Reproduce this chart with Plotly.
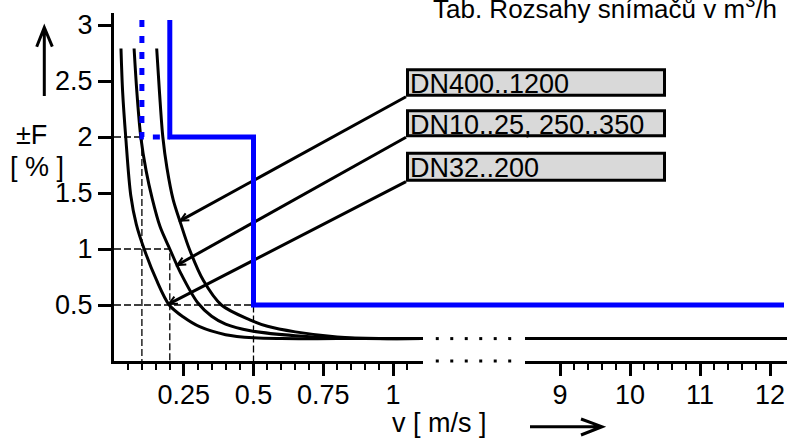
import math
import numpy as np
import plotly.graph_objects as go

# ---------------- data ----------------
# error curves  (v in m/s, F in %)
v_dn32 = [0.025, 0.031, 0.042, 0.060, 0.080, 0.108, 0.151, 0.198, 0.250, 0.307, 0.400, 0.500, 0.600, 0.800, 1.110]
f_dn32 = [2.79, 2.40, 2.00, 1.48, 1.22, 1.00, 0.73, 0.50, 0.39, 0.306, 0.235, 0.207, 0.200, 0.200, 0.200]

v_dn10 = [0.072, 0.082, 0.096, 0.115, 0.137, 0.165, 0.200, 0.240, 0.300, 0.350, 0.400, 0.489, 0.650, 0.800, 0.900, 1.110]
f_dn10 = [2.79, 2.40, 2.00, 1.70, 1.45, 1.20, 1.00, 0.78, 0.52, 0.40, 0.33, 0.27, 0.225, 0.205, 0.200, 0.200]

v_dn400 = [0.153, 0.163, 0.175, 0.190, 0.212, 0.240, 0.270, 0.320, 0.385, 0.489, 0.550, 0.650, 0.800, 0.950, 1.110]
f_dn400 = [2.79, 2.40, 2.00, 1.72, 1.44, 1.22, 1.00, 0.72, 0.50, 0.366, 0.31, 0.26, 0.215, 0.200, 0.200]

# right part of the broken axis (all curves merged)
v_right = [8.5, 12.25]
f_right = [0.2, 0.2]

# blue limit lines
v_lim = [0.2, 0.2, 0.5, 0.5, 1.11]
f_lim = [3.045, 2.0, 2.0, 0.5, 0.5]
v_lim_right = [8.5, 12.2]
f_lim_right = [0.5, 0.5]
v_lim_dot = [0.1, 0.1, 0.2]
f_lim_dot = [3.045, 2.0, 2.0]

# dashed guide points
guide_v = [0.1, 0.2, 0.5]
guide_f = [2.0, 1.0, 0.5]

# labels and the curve points they point to
labels = ["DN400..1200", "DN10..25, 250..350", "DN32..200"]
tip_v = [0.238, 0.227, 0.197]
tip_f = [1.253, 0.857, 0.51]

# axis ticks
x1_ticks = [0.25, 0.5, 0.75, 1]
x1_text = ["0.25", "0.5", "0.75", "1"]
x1_minor = [0.05, 0.1, 0.15, 0.2, 0.3, 0.35, 0.4, 0.45, 0.55, 0.6, 0.65, 0.7,
            0.8, 0.85, 0.9, 0.95, 1.05]
x2_ticks = [9, 10, 11, 12]
x2_minor = [9.2, 9.4, 9.6, 9.8, 10.2, 10.4, 10.6, 10.8, 11.2, 11.4, 11.6, 11.8]
y_ticks = [0.5, 1, 1.5, 2, 2.5, 3]
y_text = ["0.5", "1", "1.5", "2", "2.5", "3"]

# ---------------- layout geometry (pixels) ----------------
FIG_W, FIG_H = 787, 440
L, T, W, H = 114, 13, 673, 348
XS1 = 279.0          # px per m/s on left part
XS2 = 70.0           # px per m/s on right part
YS = 112.0           # px per %
GAP0, GAP1 = 423, 525
x1_max = (GAP0 - L) / XS1
x2_min = 8.5
x2_max = x2_min + (L + W - GAP1) / XS2
y_max = H / YS
d1 = (GAP0 - L) / W
d2 = (GAP1 - L) / W


def PX(x):
    return (x - L) / W


def PY(y):
    return (T + H - y) / H


def xv(px):
    return (px - L) / XS1


def fy(py):
    return (T + H - py) / YS


FONT = "Liberation Sans, Arial, sans-serif"
FS = 27
BLUE = "#0000ff"

fig = go.Figure()

# dashed guides
for gv, gf in zip(guide_v, guide_f):
    fig.add_trace(go.Scatter(x=[0, gv, gv], y=[gf, gf, 0], mode="lines",
                             line=dict(color="black", width=1.3, dash="7px,3px"),
                             xaxis="x", yaxis="y", hoverinfo="skip"))

# curves
for vv, ff in [(v_dn32, f_dn32), (v_dn10, f_dn10), (v_dn400, f_dn400)]:
    fig.add_trace(go.Scatter(x=vv, y=ff, mode="lines",
                             line=dict(color="black", width=3, shape="spline", smoothing=0.9),
                             xaxis="x", yaxis="y", hoverinfo="skip"))
    fig.add_trace(go.Scatter(x=v_right, y=f_right, mode="lines",
                             line=dict(color="black", width=3),
                             xaxis="x2", yaxis="y", hoverinfo="skip"))

# box geometry (pixels) : top, bottom
box_tb = [(68.3, 96.7), (109.3, 137.3), (151.7, 181.7)]
BOX_X0, BOX_X1 = 406, 666

# leader lines
for (tb, tv, tf) in zip(box_tb, tip_v, tip_f):
    tail_v, tail_f = xv(BOX_X0), fy(tb[1])
    fig.add_trace(go.Scatter(x=[tv, tail_v], y=[tf, tail_f], mode="lines",
                             line=dict(color="black", width=3),
                             xaxis="x", yaxis="y", hoverinfo="skip"))

# gap dots (broken axis)
gap_x = list(np.linspace(0.14, 0.85, 6))
for lvl in [f_right[0], 0]:
    fig.add_trace(go.Scatter(x=gap_x, y=[lvl] * 6, mode="markers",
                             marker=dict(color="black", size=3, symbol="square"),
                             xaxis="x3", yaxis="y", hoverinfo="skip", cliponaxis=False))

# blue limits
fig.add_trace(go.Scatter(x=v_lim_dot, y=f_lim_dot, mode="lines",
                         line=dict(color=BLUE, width=5, dash="7px,9px"),
                         xaxis="x", yaxis="y", hoverinfo="skip"))
fig.add_trace(go.Scatter(x=v_lim, y=f_lim, mode="lines",
                         line=dict(color=BLUE, width=5),
                         xaxis="x", yaxis="y", hoverinfo="skip"))
fig.add_trace(go.Scatter(x=[0, 1], y=[f_lim[-1]] * 2, mode="lines",
                         line=dict(color=BLUE, width=5),
                         xaxis="x3", yaxis="y", hoverinfo="skip"))
fig.add_trace(go.Scatter(x=v_lim_right, y=f_lim_right, mode="lines",
                         line=dict(color=BLUE, width=5),
                         xaxis="x2", yaxis="y", hoverinfo="skip"))

shapes = []
annotations = []


def path_px(polylines):
    parts = []
    for pl in polylines:
        pts = ["%s%.5f,%.5f" % ("M" if i == 0 else "L", PX(x), PY(y)) for i, (x, y) in enumerate(pl)]
        parts.append(" ".join(pts))
    return " ".join(parts)


# label boxes
for (top, bot), lab in zip(box_tb, labels):
    shapes.append(dict(type="rect", xref="paper", yref="paper",
                       x0=PX(BOX_X0 + 1.5), x1=PX(BOX_X1 - 1.5),
                       y0=PY(bot - 1.5), y1=PY(top + 1.5),
                       line=dict(color="black", width=3), fillcolor="#d9d9d9"))
    cy = (top + bot) / 2 + 1.5
    annotations.append(dict(text=lab, xref="paper", yref="paper",
                            x=PX(BOX_X0 + 2), y=PY(cy), xanchor="left", yanchor="middle",
                            showarrow=False, font=dict(size=FS, color="black", family=FONT)))

# small open arrowheads at leader tips
for (top, bot), tv, tf in zip(box_tb, tip_v, tip_f):
    tx, ty = L + tv * XS1, T + H - tf * YS
    ang = math.atan2(bot - ty, BOX_X0 - tx)
    arms = []
    for da in (0.45, -0.45):
        arms.append((tx + 9 * math.cos(ang + da), ty + 9 * math.sin(ang + da)))
    shapes.append(dict(type="path", xref="paper", yref="paper",
                       path=path_px([[arms[0], (tx, ty), arms[1]]]),
                       line=dict(color="black", width=2)))

# axis labels
annotations.append(dict(text="±F", xref="paper", yref="paper", x=PX(31.5), y=PY(135.3),
                        xanchor="center", yanchor="middle", showarrow=False,
                        font=dict(size=FS, color="black", family=FONT)))
annotations.append(dict(text="[ % ]", xref="paper", yref="paper", x=PX(36.5), y=PY(167),
                        xanchor="center", yanchor="middle", showarrow=False,
                        font=dict(size=FS, color="black", family=FONT)))
annotations.append(dict(text="v [ m/s ]", xref="paper", yref="paper", x=PX(439), y=PY(423.5),
                        xanchor="center", yanchor="middle", showarrow=False,
                        font=dict(size=FS, color="black", family=FONT)))
annotations.append(dict(text="Tab. Rozsahy snímačů v m<sup>3</sup>/h", xref="paper", yref="paper",
                        x=PX(431), y=PY(8.0), xanchor="left", yanchor="middle", showarrow=False,
                        font=dict(size=26, color="black", family=FONT)))

# arrows beside axis labels
shapes.append(dict(type="path", xref="paper", yref="paper",
                   path=path_px([[(44.3, 96), (44.3, 28)], [(36.7, 46.7), (44.3, 27.5), (52.3, 46.7)]]),
                   line=dict(color="black", width=3)))
shapes.append(dict(type="path", xref="paper", yref="paper",
                   path=path_px([[(530, 426.7), (601, 426.7)], [(581, 419), (602, 426.7), (581, 435)]]),
                   line=dict(color="black", width=3)))

tick_font = dict(size=FS, color="black", family=FONT)
fig.update_layout(
    width=FIG_W, height=FIG_H,
    margin=dict(l=L, r=FIG_W - L - W, t=T, b=FIG_H - T - H),
    paper_bgcolor="white", plot_bgcolor="white",
    showlegend=False,
    font=dict(family=FONT, color="black"),
    xaxis=dict(domain=[0, d1], range=[0, x1_max], anchor="y",
               showline=True, linecolor="black", linewidth=3,
               showgrid=False, zeroline=False,
               ticks="outside", tickvals=x1_ticks, ticktext=x1_text,
               ticklen=12, tickwidth=3, tickcolor="black", tickfont=tick_font,
               ticklabelstandoff=-4,
               minor=dict(tickmode="array", tickvals=x1_minor, ticks="outside",
                          ticklen=6, tickwidth=1.5, tickcolor="black", showgrid=False)),
    xaxis2=dict(domain=[d2, 1], range=[x2_min, x2_max], anchor="y",
                showline=True, linecolor="black", linewidth=3,
                showgrid=False, zeroline=False,
                ticks="outside", tickvals=x2_ticks,
                ticklen=12, tickwidth=3, tickcolor="black", tickfont=tick_font,
                ticklabelstandoff=-4,
                minor=dict(tickmode="array", tickvals=x2_minor, ticks="outside",
                           ticklen=6, tickwidth=1.5, tickcolor="black", showgrid=False)),
    xaxis3=dict(domain=[d1, d2], range=[0, 1], anchor="y", visible=False),
    yaxis=dict(range=[0, y_max], anchor="x",
               showline=True, linecolor="black", linewidth=3,
               showgrid=False, zeroline=False,
               ticks="outside", tickvals=y_ticks, ticktext=y_text,
               ticklen=13, tickwidth=3, tickcolor="black", tickfont=tick_font),
    shapes=shapes,
    annotations=annotations,
)

fig.write_html("out.html", config={"displayModeBar": False},
               post_script="document.body.style.margin='0px';")
